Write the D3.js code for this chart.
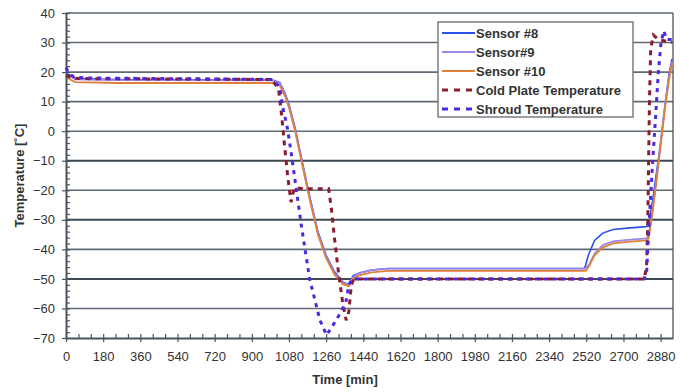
<!DOCTYPE html>
<html>
<head>
<meta charset="utf-8">
<script src="https://cdn.jsdelivr.net/npm/d3@7"></script>
<style>
  body { margin: 0; background: #fff; }
  #corpo { width: 689px; height: 392px; }
  text { font-family: "Liberation Sans", Arial, sans-serif; }
</style>
</head>
<body>
<div id="corpo"></div>
<script>
// time axis ticks (min) and temperature ticks
var xTicks = d3.range(0, 2881, 180);
var yTicks = d3.range(-70, 41, 10);

// Sensor #8
var s8Time = [0, 20, 45, 250, 1000, 1035, 1060, 1080, 1110, 1140, 1180, 1220, 1260, 1300, 1340, 1370, 1390, 1420, 1480, 1560, 1700, 2000, 2300, 2512, 2530, 2560, 2600, 2650, 2720, 2810, 2822, 2840, 2860, 2880, 2900, 2920, 2935];
var s8Temp = [19.5, 19, 17.8, 17.5, 17.3, 16.5, 13, 9, 1, -9, -22, -34, -42, -47.5, -51, -52, -49, -48, -47, -46.5, -46.5, -46.5, -46.5, -46.5, -42, -37, -34.5, -33.3, -32.8, -32.3, -32, -24, -14, -4, 8, 19, 24.5];

// Sensor#9
var s9Time = [0, 20, 45, 250, 1000, 1035, 1060, 1080, 1110, 1140, 1180, 1220, 1260, 1300, 1340, 1370, 1390, 1420, 1480, 1560, 1700, 2000, 2300, 2515, 2535, 2560, 2600, 2650, 2720, 2810, 2822, 2840, 2860, 2880, 2900, 2920, 2935];
var s9Temp = [19, 18.5, 17.5, 17.3, 17.2, 16.3, 12.5, 8.5, 0.5, -9.5, -22.5, -34.5, -42.5, -48, -51.3, -52, -49.5, -48, -47, -46.5, -46.5, -46.5, -46.5, -46.5, -45, -41.5, -38.5, -37.3, -36.8, -36.3, -35.5, -27, -16, -4, 8, 18, 23.5];

// Sensor #10
var s10Time = [0, 20, 45, 250, 1000, 1035, 1060, 1080, 1110, 1140, 1180, 1220, 1260, 1300, 1340, 1370, 1390, 1420, 1480, 1560, 1700, 2000, 2300, 2518, 2535, 2560, 2600, 2650, 2720, 2810, 2822, 2840, 2860, 2880, 2900, 2920, 2935];
var s10Temp = [19, 17.5, 16.6, 16.3, 16.3, 15.5, 12, 8, 0, -10, -23, -35, -43, -48.5, -51.8, -52.5, -50, -48.8, -47.8, -47.3, -47.3, -47.3, -47.3, -47.3, -45.5, -42, -39.3, -38, -37.5, -37, -36.3, -28, -17, -5, 7, 17, 23];

// Cold Plate Temperature
var cpTime = [0, 30, 60, 1000, 1030, 1045, 1060, 1075, 1090, 1105, 1180, 1272, 1285, 1300, 1320, 1340, 1357, 1370, 1382, 1395, 1420, 1600, 2000, 2500, 2800, 2812, 2818, 2822, 2826, 2832, 2845, 2870, 2935];
var cpTemp = [19, 18, 17.8, 17.5, 14, 5, -6, -16, -24, -19.3, -19.5, -19.5, -26, -36, -48, -58, -64, -61, -52, -50, -50, -50, -50, -50, -50, -46, -30, -10, 10, 28, 32.5, 31, 30];

// Shroud Temperature
var shTime = [0, 15, 40, 100, 1000, 1035, 1050, 1070, 1090, 1110, 1140, 1180, 1205, 1230, 1262, 1290, 1325, 1355, 1370, 1385, 1450, 2000, 2500, 2800, 2812, 2825, 2840, 2855, 2868, 2882, 2895, 2910, 2935];
var shTemp = [21.5, 19.5, 18.3, 18, 17.5, 15, 8, 2, -7, -17, -32, -50, -57, -64, -69, -66, -62, -58, -52, -50, -50, -50, -50, -50, -48, -30, -12, 4, 19, 30, 34, 31, 31];

var seriesNames = ["Sensor #8", "Sensor#9", "Sensor #10", "Cold Plate Temperature", "Shroud Temperature"];

var series = [
  {name: seriesNames[0], t: s8Time, v: s8Temp, color: "#2a52e8", width: 1.6, dash: null},
  {name: seriesNames[1], t: s9Time, v: s9Temp, color: "#9c86e6", width: 1.8, dash: null},
  {name: seriesNames[2], t: s10Time, v: s10Temp, color: "#e0803a", width: 1.8, dash: null},
  {name: seriesNames[3], t: cpTime, v: cpTemp, color: "#8a1c30", width: 3, dash: "5,5"},
  {name: seriesNames[4], t: shTime, v: shTemp, color: "#4a2ae0", width: 3, dash: "4,5"}
];

var width = 689, height = 392;
var margin = {top: 13, right: 16, bottom: 54, left: 66};

var svg = d3.select("#corpo").append("svg")
    .attr("width", width)
    .attr("height", height);

var x = d3.scaleLinear().domain([0, 2940]).range([margin.left, width - margin.right]);
var y = d3.scaleLinear().domain([-70, 40]).range([height - margin.bottom, margin.top]);

// grid lines
svg.append("g").selectAll("line")
    .data(yTicks.filter(function(d){ return d > -70; }))
    .enter().append("line")
    .attr("x1", margin.left).attr("x2", width - margin.right)
    .attr("y1", function(d){ return y(d); }).attr("y2", function(d){ return y(d); })
    .style("stroke", function(d){ return (d == -10 || d == -30 || d == -50) ? "#3e4852" : "#5f6a74"; })
    .style("stroke-width", function(d){ return (d == -10 || d == -30 || d == -50) ? 2 : 1.6; });

// right border
svg.append("line")
    .attr("x1", width - margin.right).attr("x2", width - margin.right)
    .attr("y1", margin.top).attr("y2", height - margin.bottom)
    .style("stroke", "#444").style("stroke-width", 1.2);

// y axis
svg.append("g")
    .attr("transform", "translate(" + margin.left + ",0)")
    .call(d3.axisLeft(y).tickValues(yTicks).tickSizeInner(4).tickSizeOuter(0).tickPadding(7));
svg.append("g")
    .attr("transform", "translate(" + margin.left + ",0)")
    .call(d3.axisRight(y).tickValues(d3.range(-70, 41, 2)).tickSize(4).tickFormat(""))
    .call(function(g){ g.select(".domain").remove(); });

// x axis
svg.append("g")
    .attr("transform", "translate(0," + (height - margin.bottom) + ")")
    .call(d3.axisBottom(x).tickValues(xTicks).tickFormat(d3.format("d")).tickSizeInner(4).tickSizeOuter(0).tickPadding(10));
svg.append("g")
    .attr("transform", "translate(0," + (height - margin.bottom) + ")")
    .call(d3.axisTop(x).tickValues(d3.range(0, 2881, 60)).tickSize(4).tickFormat(""))
    .call(function(g){ g.select(".domain").remove(); });

svg.selectAll(".domain").style("stroke", "#4a545e").style("stroke-width", 2);
svg.selectAll(".tick line").style("stroke", "#4a545e").style("stroke-width", 1.2);
svg.selectAll(".tick text").style("font-size", "13px").style("fill", "#333");

// axis titles
svg.append("text")
    .attr("transform", "translate(24," + ((margin.top + height - margin.bottom) / 2) + ") rotate(-90)")
    .attr("text-anchor", "middle")
    .style("font-size", "13px").style("font-weight", "bold").style("fill", "#333")
    .text("Temperature [˚C]");

svg.append("text")
    .attr("x", 345).attr("y", 384)
    .attr("text-anchor", "middle")
    .style("font-size", "13px").style("font-weight", "bold").style("fill", "#333")
    .text("Time [min]");

// data lines
var line = d3.line()
    .x(function(d){ return x(d[0]); })
    .y(function(d){ return y(d[1]); });

series.forEach(function(s){
    var pts = s.t.map(function(t, i){ return [t, s.v[i]]; });
    svg.append("path")
        .datum(pts)
        .attr("d", line)
        .style("fill", "none")
        .style("stroke", s.color)
        .style("stroke-width", s.width)
        .style("stroke-dasharray", s.dash);
});

// legend
var leg = svg.append("g").attr("transform", "translate(438,22)");
leg.append("rect")
    .attr("width", 195).attr("height", 95)
    .style("fill", "#fff").style("stroke", "#7a7f85").style("stroke-width", 1.5);

var legItem = leg.selectAll(".leg")
    .data(series)
    .enter().append("g")
    .attr("transform", function(d, i){ return "translate(0," + (11 + i * 19) + ")"; });

legItem.append("line")
    .attr("x1", 4).attr("x2", 37)
    .style("stroke", function(d){ return d.color; })
    .style("stroke-width", function(d){ return d.dash ? 3 : 2; })
    .style("stroke-dasharray", function(d){ return d.dash ? "6,6" : null; });

legItem.append("text")
    .attr("x", 38).attr("dy", "0.35em")
    .style("font-size", "13px").style("font-weight", "bold").style("fill", "#333")
    .text(function(d){ return d.name; });
</script>
</body>
</html>
